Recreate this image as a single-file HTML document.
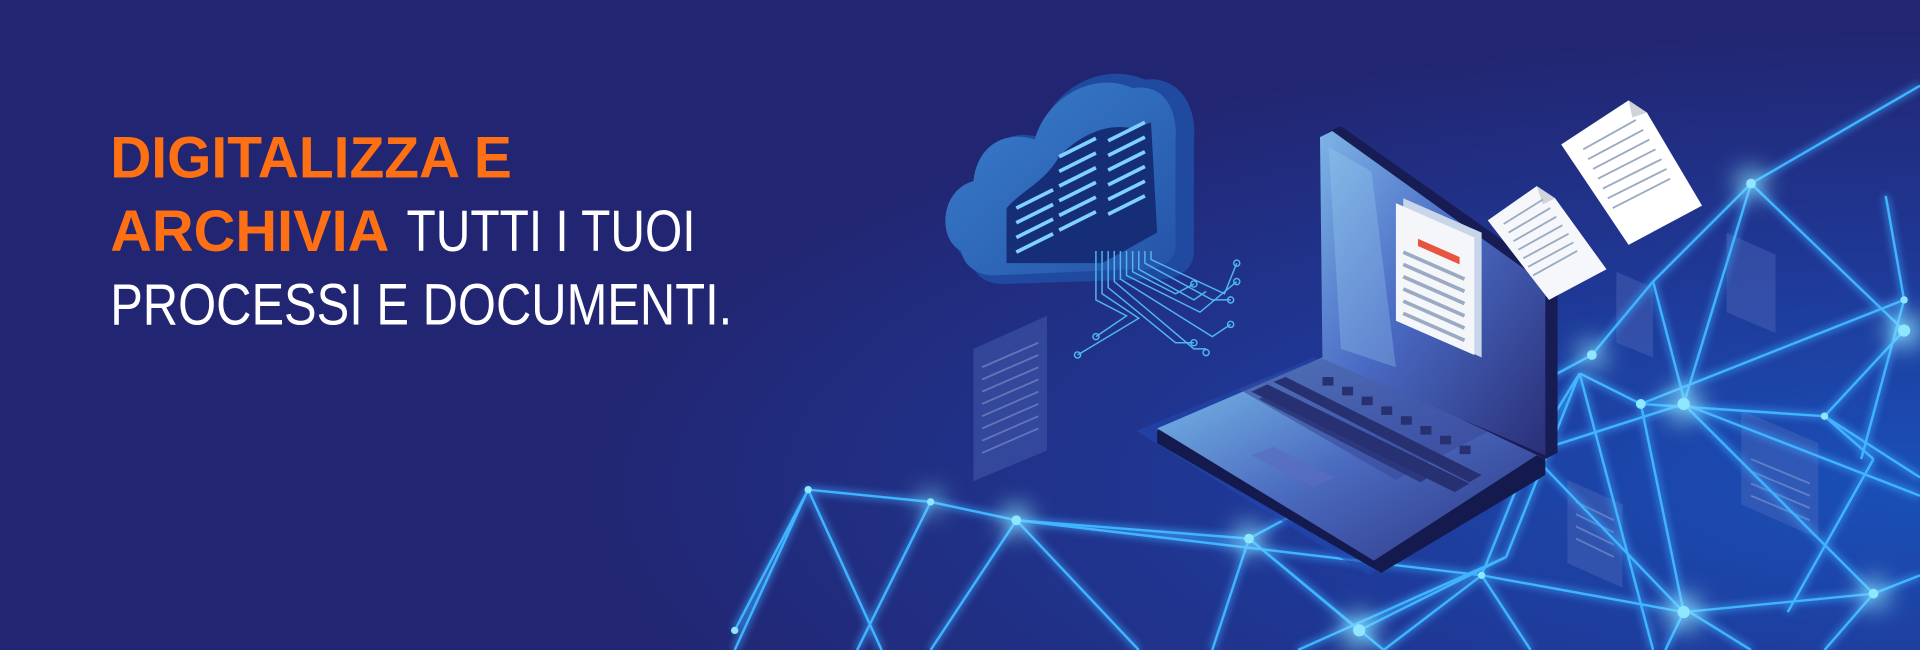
<!DOCTYPE html>
<html><head><meta charset="utf-8"><style>
html,body{margin:0;padding:0;background:#222672;overflow:hidden}
svg{display:block}
</style></head><body>
<svg width="1920" height="650" viewBox="0 0 1568 531" preserveAspectRatio="none" xmlns="http://www.w3.org/2000/svg">
<defs>
<radialGradient id="bg" cx="1.0" cy="0.75" r="0.7">
<stop offset="0" stop-color="#1a50b8"/><stop offset="0.5" stop-color="#1f3896"/><stop offset="1" stop-color="#222672"/>
</radialGradient>
<linearGradient id="scr" x1="0" y1="0" x2="1" y2="1">
<stop offset="0" stop-color="#7db4e6"/><stop offset="0.45" stop-color="#4a6bc4"/><stop offset="1" stop-color="#2a2f78"/>
</linearGradient>
<linearGradient id="kb" x1="0" y1="0" x2="1" y2="1">
<stop offset="0" stop-color="#7cc0ec"/><stop offset="0.5" stop-color="#4b6bbf"/><stop offset="1" stop-color="#2c3483"/>
</linearGradient>
<linearGradient id="cl" x1="0" y1="0" x2="1" y2="1">
<stop offset="0" stop-color="#3a80cc"/><stop offset="1" stop-color="#2553a8"/>
</linearGradient>
<filter id="gl" x="-50%" y="-50%" width="200%" height="200%"><feGaussianBlur stdDeviation="3"/></filter>
<filter id="gl2" x="-50%" y="-50%" width="200%" height="200%"><feGaussianBlur stdDeviation="10"/></filter>
</defs>
<rect width="1568" height="531" fill="url(#bg)"/>

<g fill="#5a73c0" opacity="0.35">
<polygon points="795,285 855,258 855,368 795,393"/>
<polygon points="1410,190 1450,208 1450,272 1410,255"/>
<polygon points="1320,222 1350,235 1350,292 1320,280"/>
<polygon points="1422,335 1485,362 1485,440 1422,412"/>
<polygon points="1280,392 1325,412 1325,480 1280,460"/>
<polygon points="1235,278 1270,292 1270,350 1235,336"/>
</g>
<g stroke="#8fa6d8" stroke-width="1.5" opacity="0.5">
<line x1="802" y1="300" x2="848" y2="280"/><line x1="802" y1="310" x2="848" y2="290"/><line x1="802" y1="320" x2="848" y2="300"/><line x1="802" y1="330" x2="848" y2="310"/><line x1="802" y1="340" x2="848" y2="320"/><line x1="802" y1="350" x2="848" y2="330"/><line x1="802" y1="360" x2="848" y2="340"/><line x1="802" y1="370" x2="848" y2="350"/>
<line x1="1430" y1="375" x2="1478" y2="395"/><line x1="1430" y1="385" x2="1478" y2="405"/><line x1="1430" y1="395" x2="1478" y2="415"/><line x1="1430" y1="405" x2="1478" y2="425"/>
<line x1="1287" y1="410" x2="1318" y2="425"/><line x1="1287" y1="420" x2="1318" y2="435"/><line x1="1287" y1="430" x2="1318" y2="445"/><line x1="1287" y1="440" x2="1318" y2="455"/>
</g>

<g id="net" fill="none">
<polyline points="600,515 660,400 760,410 830,425 1020,440 1110,515"/>
<line x1="660" y1="400" x2="600" y2="531"/>
<line x1="760" y1="410" x2="700" y2="531"/>
<line x1="830" y1="425" x2="760" y2="531"/>
<line x1="830" y1="425" x2="930" y2="531"/>
<line x1="660" y1="400" x2="720" y2="531"/>
<line x1="1020" y1="440" x2="990" y2="531"/>
<line x1="1020" y1="440" x2="1130" y2="531"/>
<line x1="1110" y1="515" x2="1230" y2="455"/>
<line x1="1230" y1="455" x2="1290" y2="305"/>
<line x1="1290" y1="305" x2="1340" y2="330"/>
<line x1="1340" y1="330" x2="1555" y2="245"/>
<line x1="1340" y1="330" x2="1490" y2="340"/>
<line x1="1290" y1="305" x2="1250" y2="370"/>
<line x1="1250" y1="370" x2="1375" y2="330"/>
<line x1="1375" y1="330" x2="1430" y2="150"/>
<line x1="1430" y1="150" x2="1555" y2="270"/>
<line x1="1430" y1="150" x2="1568" y2="70"/>
<line x1="1490" y1="340" x2="1555" y2="270"/>
<line x1="1490" y1="340" x2="1568" y2="390"/>
<line x1="1375" y1="330" x2="1568" y2="405"/>
<line x1="1250" y1="370" x2="1210" y2="470"/>
<line x1="1210" y1="470" x2="1130" y2="531"/>
<line x1="1210" y1="470" x2="1375" y2="500"/>
<line x1="1375" y1="500" x2="1530" y2="485"/>
<line x1="1530" y1="485" x2="1568" y2="470"/>
<line x1="1375" y1="500" x2="1340" y2="330"/>
<line x1="1375" y1="500" x2="1250" y2="370"/>
<line x1="1460" y1="500" x2="1530" y2="375"/>
<line x1="1530" y1="375" x2="1490" y2="340"/>
<line x1="1530" y1="485" x2="1375" y2="330"/>
<line x1="1375" y1="500" x2="1360" y2="531"/>
<line x1="1380" y1="500" x2="1430" y2="531"/>
<line x1="1530" y1="485" x2="1490" y2="531"/>
<line x1="1290" y1="305" x2="1350" y2="531"/>
<line x1="1230" y1="455" x2="1060" y2="531"/>
<line x1="1300" y1="290" x2="1350" y2="230"/>
<line x1="1350" y1="230" x2="1430" y2="150"/>
<line x1="1350" y1="230" x2="1375" y2="325"/>
<line x1="1555" y1="245" x2="1520" y2="375"/>
<line x1="1555" y1="245" x2="1540" y2="160"/>
<line x1="1020" y1="440" x2="1300" y2="290"/>
<line x1="830" y1="425" x2="1210" y2="470"/>
<line x1="1210" y1="470" x2="1250" y2="531"/>
</g>
<use href="#net" stroke="#3aa8ff" stroke-width="5" filter="url(#gl)" opacity="0.6"/>
<use href="#net" stroke="#41b4ff" stroke-width="2"/>
<g fill="#8fe6ff">
<g filter="url(#gl2)">
<circle cx="830" cy="425" r="11"/><circle cx="1020" cy="440" r="11"/><circle cx="1110" cy="515" r="13"/><circle cx="1375" cy="330" r="13"/><circle cx="1430" cy="150" r="11"/><circle cx="1555" cy="270" r="13"/><circle cx="1375" cy="500" r="13"/><circle cx="1530" cy="485" r="11"/><circle cx="1300" cy="290" r="10"/><circle cx="760" cy="410" r="8"/>
</g>
<circle cx="830" cy="425" r="4"/><circle cx="1020" cy="440" r="4"/><circle cx="1110" cy="515" r="5"/><circle cx="1375" cy="330" r="5"/><circle cx="1430" cy="150" r="4"/><circle cx="1555" cy="270" r="5"/><circle cx="1375" cy="500" r="5"/><circle cx="1530" cy="485" r="4"/><circle cx="1300" cy="290" r="4"/><circle cx="760" cy="410" r="3"/><circle cx="660" cy="400" r="3"/><circle cx="1340" cy="330" r="4"/><circle cx="1250" cy="370" r="3"/><circle cx="1490" cy="340" r="3"/><circle cx="1555" cy="245" r="3"/><circle cx="1210" cy="470" r="3"/><circle cx="600" cy="515" r="3"/>
</g>

<!-- cloud -->
<path d="M795,215 C770,205 772,160 800,150 C802,118 825,105 848,112 C858,72 900,50 935,65 C962,62 978,85 975,115 L975,205 C975,222 960,230 940,228 L820,232 C805,232 795,225 795,215 Z" fill="#1f4aa0"/>
<path d="M785,205 C765,195 768,155 795,148 C798,118 822,106 845,114 C855,78 895,58 925,72 C950,68 962,88 960,115 L960,200 C960,215 945,222 925,220 L812,225 C798,225 787,217 785,205 Z" fill="url(#cl)"/>
<path d="M822,215 L822,170 C835,155 852,150 865,128 C882,110 905,100 925,105 L940,100 L945,190 L900,215 Z" fill="#162e78"/>
<g stroke="#7fd2ff" stroke-width="3">
<line x1="830" y1="170" x2="860" y2="155"/><line x1="830" y1="182" x2="860" y2="167"/><line x1="830" y1="194" x2="860" y2="179"/><line x1="830" y1="206" x2="860" y2="191"/>
<line x1="865" y1="128" x2="895" y2="113"/><line x1="865" y1="140" x2="895" y2="125"/><line x1="865" y1="152" x2="895" y2="137"/><line x1="865" y1="164" x2="895" y2="149"/><line x1="865" y1="176" x2="895" y2="161"/><line x1="865" y1="188" x2="895" y2="173"/>
<line x1="905" y1="115" x2="935" y2="100"/><line x1="905" y1="127" x2="935" y2="112"/><line x1="905" y1="139" x2="935" y2="124"/><line x1="905" y1="151" x2="935" y2="136"/><line x1="905" y1="163" x2="935" y2="148"/><line x1="905" y1="175" x2="935" y2="160"/>
</g>
<g stroke="#4fb6f0" stroke-width="1.2" fill="none">
<polyline points="905,205 905,235 960,280 975,280"/>
<polyline points="910,205 910,230 975,285 985,285"/>
<polyline points="915,205 915,228 990,275 1005,265"/>
<polyline points="920,205 920,225 980,255 1010,230"/>
<polyline points="925,205 925,222 960,240 975,232"/>
<polyline points="900,205 900,240 930,260 880,290"/>
<polyline points="895,205 895,245 920,258 895,275"/>
<polyline points="930,205 930,220 975,245 985,238"/>
<polyline points="935,205 935,215 990,245 1005,245"/>
<polyline points="940,205 940,212 1000,240 1010,215"/>
<circle cx="880" cy="290" r="2.5"/><circle cx="895" cy="275" r="2.5"/><circle cx="975" cy="280" r="2.5"/><circle cx="985" cy="288" r="2.5"/><circle cx="1005" cy="265" r="2.5"/><circle cx="1010" cy="230" r="2.5"/><circle cx="1010" cy="215" r="2.5"/><circle cx="1005" cy="245" r="2.5"/><circle cx="975" cy="232" r="2.5"/>
</g>

<!-- laptop -->
<polygon points="928,352 1073,292 1262,378 1118,470" fill="#2348b0" opacity="0.6"/>
<polygon points="945,352 1080,293 1262,375 1262,388 1128,468 945,362" fill="#141a4e"/>
<polygon points="945,350 1080,292 1258,370 1122,458" fill="url(#kb)"/>
<polygon points="1012,318 1092,288 1220,350 1140,392" fill="#3a4a9a" opacity="0.6"/>
<g fill="#273172">
<polygon points="1022,320 1035,314 1200,395 1188,402"/>
<polygon points="1040,312 1050,308 1210,388 1200,394"/>
<polygon points="1028,326 1040,320 1170,388 1160,394" opacity="0.8"/>
<rect x="1080" y="308" width="9" height="7"/><rect x="1096" y="316" width="9" height="7"/><rect x="1112" y="324" width="9" height="7"/><rect x="1128" y="332" width="9" height="7"/><rect x="1144" y="340" width="9" height="7"/><rect x="1160" y="348" width="9" height="7"/><rect x="1176" y="356" width="9" height="7"/><rect x="1192" y="364" width="9" height="7"/>
</g>
<polygon points="1022,372 1040,365 1090,390 1072,398" fill="#5a6cc0" opacity="0.7"/>
<polygon points="1084,108 1095,103 1272,228 1272,370 1262,375 1084,290" fill="#171c55"/>
<polygon points="1078,112 1088,107 1262,232 1262,372 1080,293" fill="url(#scr)"/>
<polygon points="1085,120 1120,140 1140,300 1095,285" fill="#9fd0f2" opacity="0.3"/>
<polygon points="1146,162 1210,190 1210,292 1146,262" fill="#c9d6ea"/>
<polygon points="1140,166 1204,194 1204,290 1140,262" fill="#f4f6fa"/>
<polygon points="1158,195 1192,210 1192,216 1158,201" fill="#e8553f"/>
<g stroke="#9aaac2" stroke-width="3">
<line x1="1146" y1="206" x2="1196" y2="228"/><line x1="1146" y1="216" x2="1196" y2="238"/><line x1="1146" y1="226" x2="1196" y2="248"/><line x1="1146" y1="236" x2="1196" y2="258"/><line x1="1146" y1="246" x2="1196" y2="268"/><line x1="1146" y1="256" x2="1196" y2="278"/>
</g>
<polygon points="1215,180 1255,152 1270,162 1312,220 1265,245" fill="#f6f7fa"/>
<polygon points="1255,152 1270,162 1260,167" fill="#cfd3da"/>
<g stroke="#9aaac2" stroke-width="1.5">
<line x1="1228" y1="183" x2="1260" y2="163"/><line x1="1232" y1="190" x2="1266" y2="170"/><line x1="1236" y1="197" x2="1271" y2="177"/><line x1="1240" y1="204" x2="1276" y2="184"/><line x1="1244" y1="211" x2="1281" y2="191"/><line x1="1248" y1="218" x2="1285" y2="198"/><line x1="1252" y1="225" x2="1288" y2="205"/>
</g>
<polygon points="1275,118 1330,82 1345,92 1390,168 1330,200" fill="#ffffff"/>
<polygon points="1330,82 1345,92 1333,96" fill="#cfd3da"/>
<g stroke="#9aaac2" stroke-width="1.5">
<line x1="1293" y1="122" x2="1336" y2="98"/><line x1="1297" y1="130" x2="1342" y2="106"/><line x1="1301" y1="138" x2="1347" y2="114"/><line x1="1305" y1="146" x2="1352" y2="122"/><line x1="1309" y1="154" x2="1357" y2="130"/><line x1="1313" y1="162" x2="1361" y2="138"/><line x1="1317" y1="170" x2="1364" y2="146"/>
</g>

<g font-family="Liberation Sans, Arial, sans-serif" font-size="48">
<text x="90" y="145" fill="#ff6f14" font-weight="bold" textLength="328" lengthAdjust="spacingAndGlyphs">DIGITALIZZA E</text>
<text x="90" y="205" fill="#ff6f14" font-weight="bold" textLength="228" lengthAdjust="spacingAndGlyphs">ARCHIVIA</text>
<text x="332" y="205" fill="#ffffff" textLength="236" lengthAdjust="spacingAndGlyphs">TUTTI I TUOI</text>
<text x="90" y="265" fill="#ffffff" textLength="508" lengthAdjust="spacingAndGlyphs">PROCESSI E DOCUMENTI.</text>
</g>
</svg>
</body></html>
